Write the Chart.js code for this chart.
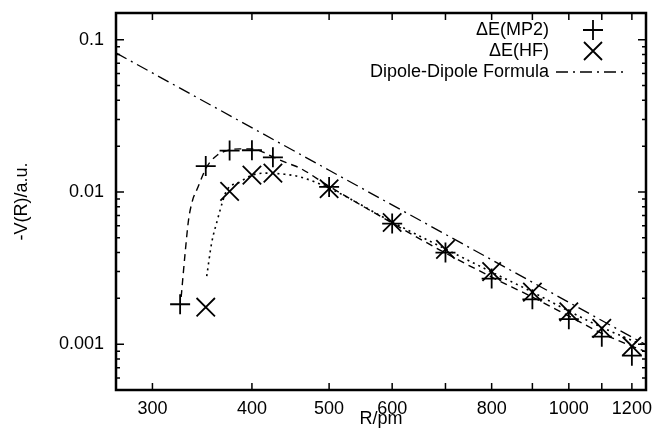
<!DOCTYPE html>
<html>
<head>
<meta charset="utf-8">
<script src="https://cdn.jsdelivr.net/npm/chart.js@4.4.0/dist/chart.umd.min.js"></script>
<style>
  html, body { margin: 0; padding: 0; background: #fff; }
  #chart { display: block; }
</style>
</head>
<body>
<canvas id="chart" width="653" height="434"></canvas>
<script>
// measured points (R in pm, -V in a.u.)
const mp2R = [325, 350, 375, 400, 425, 500, 600, 700, 800, 900, 1000, 1100, 1200];
const mp2V = [0.00183, 0.0148, 0.0187, 0.0188, 0.0169, 0.0108, 0.0062, 0.0040, 0.0027, 0.00197, 0.00146, 0.00112, 0.00084];
const hfR = [350, 375, 400, 425, 500, 600, 700, 800, 900, 1000, 1100, 1200];
const hfV = [0.00175, 0.0101, 0.0129, 0.0133, 0.0105, 0.0063, 0.0042, 0.0030, 0.0022, 0.00163, 0.00127, 0.00097];

// fitted curves
const mp2FitR = [326, 330, 333, 337, 341, 351, 362, 375, 386, 400, 413, 425, 443, 459, 500, 600, 700, 800, 900, 1000, 1100, 1250];
const mp2FitV = [0.00204, 0.00415, 0.00654, 0.00886, 0.0103, 0.0146, 0.0175, 0.0189, 0.0192, 0.0192, 0.0183, 0.0170, 0.0155, 0.0144, 0.0109, 0.00625, 0.00397, 0.00276, 0.00204, 0.00153, 0.00118, 0.00089];
const hfFitR = [351, 356, 362, 368, 372, 386, 400, 418, 438, 459, 500, 600, 700, 800, 900, 1000, 1100, 1250];
const hfFitV = [0.0028, 0.00462, 0.00654, 0.00886, 0.0103, 0.0116, 0.0129, 0.0133, 0.0131, 0.0126, 0.0106, 0.00635, 0.00422, 0.00298, 0.0022, 0.00165, 0.00129, 0.00097];
const dipoleR = [270, 500, 1250];
const dipoleV = [0.082, 0.0139, 0.00099];

const xTickLabels = [300, 400, 500, 600, 800, 1000, 1200];
const xTickMarks = [300, 400, 500, 600, 700, 800, 900, 1000, 1100, 1200];
const yTickLabels = [0.001, 0.01, 0.1];

const legendNames = ['\u0394E(MP2)', '\u0394E(HF)', 'Dipole-Dipole Formula'];

const FONT = '"Liberation Sans", Arial, Helvetica, sans-serif';
const toXY = (xs, ys) => xs.map((v, i) => ({ x: v, y: ys[i] }));

const frame = {
  id: 'frame',
  afterDatasetsDraw(chart) {
    const { ctx, chartArea: a, scales: { x, y } } = chart;
    ctx.save();
    ctx.strokeStyle = '#000';
    ctx.lineWidth = 1.5;
    ctx.setLineDash([]);
    ctx.beginPath();
    xTickMarks.forEach(v => {
      const px = x.getPixelForValue(v);
      ctx.moveTo(px, a.bottom); ctx.lineTo(px, a.bottom - 7);
      ctx.moveTo(px, a.top); ctx.lineTo(px, a.top + 7);
    });
    // y: major at decades, minor at 2..9
    for (let e = -4; e <= -1; e++) {
      for (let m = 1; m <= 9; m++) {
        const v = m * Math.pow(10, e);
        if (v < y.min || v > y.max) continue;
        const py = y.getPixelForValue(v);
        const len = m === 1 ? 8 : 4;
        ctx.moveTo(a.left, py); ctx.lineTo(a.left + len, py);
        ctx.moveTo(a.right, py); ctx.lineTo(a.right - len, py);
      }
    }
    ctx.stroke();

    ctx.lineWidth = 2.5;
    ctx.strokeRect(a.left, a.top, a.right - a.left, a.bottom - a.top);

    // key, top right
    ctx.font = '18px ' + FONT;
    ctx.fillStyle = '#000';
    ctx.textAlign = 'right';
    ctx.textBaseline = 'middle';
    const rows = [30, 51, 72];
    legendNames.forEach((t, i) => ctx.fillText(t, 549, rows[i]));
    ctx.lineWidth = 1.8;
    ctx.beginPath();
    ctx.moveTo(583, rows[0]); ctx.lineTo(603, rows[0]);
    ctx.moveTo(593, rows[0] - 10); ctx.lineTo(593, rows[0] + 10);
    ctx.moveTo(584, rows[1] - 9); ctx.lineTo(602, rows[1] + 9);
    ctx.moveTo(602, rows[1] - 9); ctx.lineTo(584, rows[1] + 9);
    ctx.stroke();
    ctx.lineWidth = 1.3;
    ctx.setLineDash([12, 5, 2, 5]);
    ctx.beginPath();
    ctx.moveTo(556, rows[2]); ctx.lineTo(626, rows[2]);
    ctx.stroke();
    ctx.restore();
  }
};

new Chart(document.getElementById('chart'), {
  type: 'scatter',
  data: {
    datasets: [
      {
        label: legendNames[0],
        data: toXY(mp2R, mp2V),
        pointStyle: 'cross', pointRadius: 10, pointBorderWidth: 1.8,
        borderColor: '#000', backgroundColor: '#000', showLine: false, clip: false
      },
      {
        label: legendNames[1],
        data: toXY(hfR, hfV),
        pointStyle: 'crossRot', pointRadius: 13, pointBorderWidth: 1.8,
        borderColor: '#000', backgroundColor: '#000', showLine: false, clip: false
      },
      {
        label: 'MP2 fit',
        data: toXY(mp2FitR, mp2FitV),
        showLine: true, pointRadius: 0, borderColor: '#000', borderWidth: 1.4,
        borderDash: [7, 5], cubicInterpolationMode: 'monotone'
      },
      {
        label: 'HF fit',
        data: toXY(hfFitR, hfFitV),
        showLine: true, pointRadius: 0, borderColor: '#000', borderWidth: 1.6,
        borderDash: [2, 4], cubicInterpolationMode: 'monotone'
      },
      {
        label: legendNames[2],
        data: toXY(dipoleR, dipoleV),
        showLine: true, pointRadius: 0, borderColor: '#000', borderWidth: 1.3,
        borderDash: [12, 5, 2, 5]
      }
    ]
  },
  options: {
    responsive: false,
    animation: false,
    layout: { autoPadding: false, padding: { top: 13, right: 7, left: 0, bottom: 0 } },
    plugins: { legend: { display: false }, tooltip: { enabled: false } },
    scales: {
      x: {
        type: 'logarithmic', min: 270, max: 1250,
        grid: { display: false, drawTicks: false },
        border: { display: false },
        afterBuildTicks: s => { s.ticks = xTickLabels.map(v => ({ value: v })); },
        afterFit: s => { s.height = 44; s.paddingLeft = 0; s.paddingRight = 0; },
        ticks: { color: '#000', font: { family: FONT, size: 18 }, padding: 8, maxRotation: 0, autoSkip: false,
                 callback: v => String(v) },
        title: { display: true, text: 'R/pm', color: '#000', font: { family: FONT, size: 18 }, padding: { top: 0, bottom: 4 } }
      },
      y: {
        type: 'logarithmic', min: 0.0005, max: 0.15,
        grid: { display: false, drawTicks: false },
        border: { display: false },
        afterBuildTicks: s => { s.ticks = yTickLabels.map(v => ({ value: v })); },
        afterFit: s => { s.width = 116; s.paddingTop = 0; s.paddingBottom = 0; },
        ticks: { color: '#000', font: { family: FONT, size: 18 }, padding: 12, autoSkip: false,
                 callback: v => String(v) },
        title: { display: true, text: '-V(R)/a.u.', color: '#000', font: { family: FONT, size: 18 }, padding: { top: 11, bottom: 0 } }
      }
    }
  },
  plugins: [frame]
});
</script>
</body>
</html>
